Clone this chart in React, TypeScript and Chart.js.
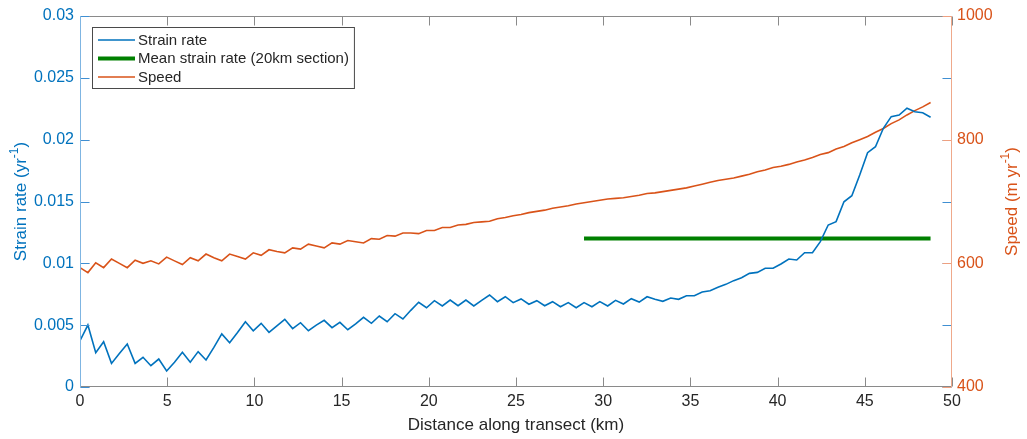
import React, { useEffect, useRef } from 'react';
import { Chart, registerables } from 'chart.js';

Chart.register(...registerables);

// ---- data ----
const SAMPLE_SPACING_KM = 0.4516;

const strainRate = [
  0.00374, 0.00501, 0.00277, 0.00366, 0.00191, 0.0027, 0.00348, 0.00191, 0.0024, 0.00172,
  0.00226, 0.00129, 0.0020, 0.0028, 0.0020, 0.00286, 0.00218, 0.0032, 0.00429, 0.00358,
  0.0044, 0.00528, 0.00455, 0.00515, 0.00442, 0.00495, 0.00547, 0.00472, 0.0052, 0.00455,
  0.005, 0.00539, 0.0048, 0.00523, 0.00463, 0.0051, 0.00563, 0.00515, 0.00574, 0.00528,
  0.00593, 0.0055, 0.0062, 0.00685, 0.00641, 0.00698, 0.00655, 0.00703, 0.00657, 0.00703,
  0.00655, 0.0070, 0.00744, 0.0069, 0.0073, 0.00682, 0.00712, 0.00669, 0.00698, 0.00657,
  0.0069, 0.00649, 0.00682, 0.00641, 0.00682, 0.00649, 0.0069, 0.00655, 0.00701, 0.00671,
  0.00714, 0.00687, 0.0073, 0.00709, 0.00693, 0.0072, 0.00709, 0.00738, 0.00738, 0.00768,
  0.00779, 0.00806, 0.0083, 0.0086, 0.00884, 0.00919, 0.00927, 0.0096, 0.0096, 0.00995,
  0.01035, 0.01027, 0.01086, 0.01086, 0.01175, 0.0131, 0.01337, 0.01498, 0.01547, 0.01714,
  0.01895, 0.01943, 0.02092, 0.02186, 0.02199, 0.02254, 0.02226, 0.02218, 0.02181,
];

const speed = [
  593, 585, 601, 593, 607, 600, 593, 605, 600, 604,
  599, 610, 604, 598, 609, 604, 615, 609, 604, 615,
  611, 607, 617, 613, 622, 619, 617, 625, 623, 631,
  628, 625, 633, 631, 637, 635, 633, 640, 639, 645,
  644, 649, 649, 648, 653, 653, 658, 658, 662, 663,
  666, 667, 668, 672, 674, 677, 679, 682, 684, 686,
  689, 691, 693, 696, 698, 700, 702, 704, 705, 706,
  708, 710, 713, 714, 716, 718, 720, 722, 725, 728,
  731, 734, 736, 738, 741, 744, 748, 751, 755, 757,
  760, 764, 767, 771, 776, 779, 785, 789, 795, 800,
  805, 812, 818, 826, 832, 840, 847, 853, 860,
];

// sample positions along the transect (regular sampling grid)
const distanceKm = strainRate.map((_, i) => Math.round(i * SAMPLE_SPACING_KM * 1000) / 1000);

const meanSectionKm = [28.9, 48.77];
const meanSectionStrain = [0.012, 0.012];

const xTicks = [0, 5, 10, 15, 20, 25, 30, 35, 40, 45, 50];
const xTickLabels = ['0', '5', '10', '15', '20', '25', '30', '35', '40', '45', '50'];
const strainTicks = [0, 0.005, 0.01, 0.015, 0.02, 0.025, 0.03];
const strainTickLabels = ['0', '0.005', '0.01', '0.015', '0.02', '0.025', '0.03'];
const speedTicks = [400, 600, 800, 1000];
const speedTickLabels = ['400', '600', '800', '1000'];

const seriesLabels = ['Strain rate', 'Mean strain rate (20km section)', 'Speed'];
const xTitle = 'Distance along transect (km)';
const strainTitle = ['Strain rate (yr', '-1', ')'];
const speedTitle = ['Speed (m yr', '-1', ')'];

// ---- styling ----
const FONT = '"Liberation Sans", Arial, Helvetica, sans-serif';
const BLUE = '#0072BD';
const ORANGE = '#D95319';
const GREEN = '#008000';
const DARK = '#262626';

function labelFor(values: number[], labels: string[], v: number) {
  const i = values.findIndex((t) => Math.abs(t - v) < 1e-9);
  return i >= 0 ? labels[i] : '';
}

function drawRich(ctx: CanvasRenderingContext2D, parts: string[], cx: number, cy: number, color: string, size: number, rotate: boolean) {
  ctx.save();
  ctx.translate(cx, cy);
  if (rotate) ctx.rotate(-Math.PI / 2);
  ctx.fillStyle = color;
  ctx.textBaseline = 'middle';
  ctx.textAlign = 'left';
  const supSize = Math.round(size * 0.72);
  const widths = parts.map((p, i) => {
    ctx.font = `${i === 1 ? supSize : size}px ${FONT}`;
    return ctx.measureText(p).width;
  });
  const total = widths.reduce((a, b) => a + b, 0);
  let pos = -total / 2;
  parts.forEach((p, i) => {
    ctx.font = `${i === 1 ? supSize : size}px ${FONT}`;
    ctx.fillText(p, pos, i === 1 ? -size * 0.36 : 0);
    pos += widths[i];
  });
  ctx.restore();
}

const matlabAxes = {
  id: 'matlabAxes',
  afterDatasetsDraw(chart: any) {
    const { ctx, chartArea: a, scales } = chart;
    const xs = scales.x;
    const yl = scales.yStrain;
    const yr = scales.ySpeed;
    const L = Math.round(a.left) + 0.5;
    const R = Math.round(a.right) - 0.5;
    const T = Math.round(a.top) + 0.5;
    const B = Math.round(a.bottom) - 0.5;
    const TL = 9;
    ctx.save();
    ctx.lineWidth = 1;
    // x ticks (bottom & top, inward)
    ctx.strokeStyle = '#8a8a8a';
    ctx.beginPath();
    xTicks.forEach((v) => {
      const px = Math.round(xs.getPixelForValue(v)) + 0.5;
      ctx.moveTo(px, B); ctx.lineTo(px, B - TL);
      ctx.moveTo(px, T); ctx.lineTo(px, T + TL);
    });
    ctx.stroke();
    // box top/bottom
    ctx.beginPath();
    ctx.moveTo(L, T); ctx.lineTo(R, T);
    ctx.moveTo(L, B); ctx.lineTo(R, B);
    ctx.stroke();
    // speed ticks on left
    const speedTickPath = (side: 'left' | 'right') => {
      ctx.beginPath();
      speedTicks.forEach((v) => {
        const py = Math.round(yr.getPixelForValue(v)) + 0.5;
        if (side === 'left') { ctx.moveTo(L, py); ctx.lineTo(L + TL, py); }
        else { ctx.moveTo(R, py); ctx.lineTo(R - TL, py); }
      });
      ctx.stroke();
    };
    const strainTickPath = (side: 'left' | 'right') => {
      ctx.beginPath();
      strainTicks.forEach((v) => {
        const py = Math.round(yl.getPixelForValue(v)) + 0.5;
        if (side === 'left') { ctx.moveTo(L, py); ctx.lineTo(L + TL, py); }
        else { ctx.moveTo(R, py); ctx.lineTo(R - TL, py); }
      });
      ctx.stroke();
    };
    ctx.strokeStyle = '#eea080';
    speedTickPath('left');
    ctx.strokeStyle = '#3f8fd2';
    strainTickPath('left');
    strainTickPath('right');
    ctx.strokeStyle = '#eea080';
    speedTickPath('right');
    // left and right axis lines
    ctx.strokeStyle = '#7fb5e2';
    ctx.beginPath(); ctx.moveTo(L, T - 0.5); ctx.lineTo(L, B + 0.5); ctx.stroke();
    ctx.strokeStyle = '#efa98b';
    ctx.beginPath(); ctx.moveTo(R, T - 0.5); ctx.lineTo(R, B + 0.5); ctx.stroke();
    ctx.restore();
  },
  afterDraw(chart: any) {
    const { ctx, chartArea: a } = chart;
    ctx.save();
    // legend
    const lx = Math.round(a.left) + 12;
    const ly = Math.round(a.top) + 11;
    ctx.font = `15px ${FONT}`;
    const maxW = Math.max(...seriesLabels.map((s) => ctx.measureText(s).width));
    const w = 46 + maxW + 5;
    const h = 61;
    ctx.fillStyle = '#ffffff';
    ctx.fillRect(lx, ly, w, h);
    ctx.strokeStyle = '#4a4a4a';
    ctx.lineWidth = 1;
    ctx.strokeRect(lx + 0.5, ly + 0.5, w, h);
    const colors = [BLUE, GREEN, ORANGE];
    const widths = [1.5, 4, 1.5];
    const rows = [13, 31.5, 50];
    seriesLabels.forEach((s, i) => {
      const yy = ly + rows[i];
      ctx.strokeStyle = colors[i];
      ctx.lineWidth = widths[i];
      ctx.beginPath(); ctx.moveTo(lx + 6, yy); ctx.lineTo(lx + 43, yy); ctx.stroke();
      ctx.fillStyle = DARK;
      ctx.textBaseline = 'middle';
      ctx.textAlign = 'left';
      ctx.fillText(s, lx + 46, yy + 0.5);
    });
    // axis titles
    ctx.fillStyle = DARK;
    ctx.font = `17px ${FONT}`;
    ctx.textAlign = 'center';
    ctx.textBaseline = 'middle';
    ctx.fillText(xTitle, (a.left + a.right) / 2, a.bottom + 38);
    const cy = (a.top + a.bottom) / 2;
    drawRich(ctx, strainTitle, 21, cy, BLUE, 17, true);
    drawRich(ctx, speedTitle, 1012, cy, ORANGE, 17, true);
    ctx.restore();
  },
};

export default function App() {
  const ref = useRef<HTMLCanvasElement | null>(null);
  useEffect(() => {
    if (!ref.current) return;
    const chart = new Chart(ref.current, {
      type: 'line',
      data: {
        datasets: [
          {
            label: seriesLabels[0],
            data: distanceKm.map((d, i) => ({ x: d, y: strainRate[i] })),
            borderColor: BLUE,
            borderWidth: 1.6,
            pointRadius: 0,
            tension: 0,
            yAxisID: 'yStrain',
          },
          {
            label: seriesLabels[1],
            data: meanSectionKm.map((d, i) => ({ x: d, y: meanSectionStrain[i] })),
            borderColor: GREEN,
            borderWidth: 4,
            pointRadius: 0,
            yAxisID: 'yStrain',
          },
          {
            label: seriesLabels[2],
            data: distanceKm.map((d, i) => ({ x: d, y: speed[i] })),
            borderColor: ORANGE,
            borderWidth: 1.6,
            pointRadius: 0,
            tension: 0,
            yAxisID: 'ySpeed',
          },
        ],
      },
      options: {
        animation: false,
        responsive: false,
        devicePixelRatio: 1,
        layout: { padding: { top: 16, left: 0, right: 0, bottom: 0 } },
        plugins: { legend: { display: false }, tooltip: { enabled: false } },
        scales: {
          x: {
            type: 'linear',
            min: 0,
            max: 50,
            afterBuildTicks: (s: any) => { s.ticks = xTicks.map((v) => ({ value: v })); },
            afterFit: (s: any) => { s.height = 52; },
            grid: { display: false, drawTicks: false },
            border: { display: false },
            ticks: {
              color: DARK,
              font: { family: FONT, size: 16 },
              padding: 5,
              maxRotation: 0,
              autoSkip: false,
              callback: (v: any) => labelFor(xTicks, xTickLabels, Number(v)),
            },
          },
          yStrain: {
            type: 'linear',
            position: 'left',
            min: 0,
            max: 0.03,
            afterBuildTicks: (s: any) => { s.ticks = strainTicks.map((v) => ({ value: v })); },
            afterFit: (s: any) => { s.width = 80; },
            grid: { display: false, drawTicks: false },
            border: { display: false },
            ticks: {
              color: BLUE,
              font: { family: FONT, size: 16 },
              padding: 6,
              autoSkip: false,
              callback: (v: any) => labelFor(strainTicks, strainTickLabels, Number(v)),
            },
          },
          ySpeed: {
            type: 'linear',
            position: 'right',
            min: 400,
            max: 1000,
            afterBuildTicks: (s: any) => { s.ticks = speedTicks.map((v) => ({ value: v })); },
            afterFit: (s: any) => { s.width = 75; },
            grid: { display: false, drawTicks: false },
            border: { display: false },
            ticks: {
              color: ORANGE,
              font: { family: FONT, size: 16 },
              padding: 5,
              autoSkip: false,
              callback: (v: any) => labelFor(speedTicks, speedTickLabels, Number(v)),
            },
          },
        },
      },
      plugins: [matlabAxes],
    } as any);
    return () => chart.destroy();
  }, []);
  return (
    <div style={{ position: 'fixed', left: 0, top: 0, width: 1027, height: 439, background: '#ffffff' }}>
      <canvas ref={ref} width={1027} height={439} style={{ display: 'block' }} />
    </div>
  );
}
